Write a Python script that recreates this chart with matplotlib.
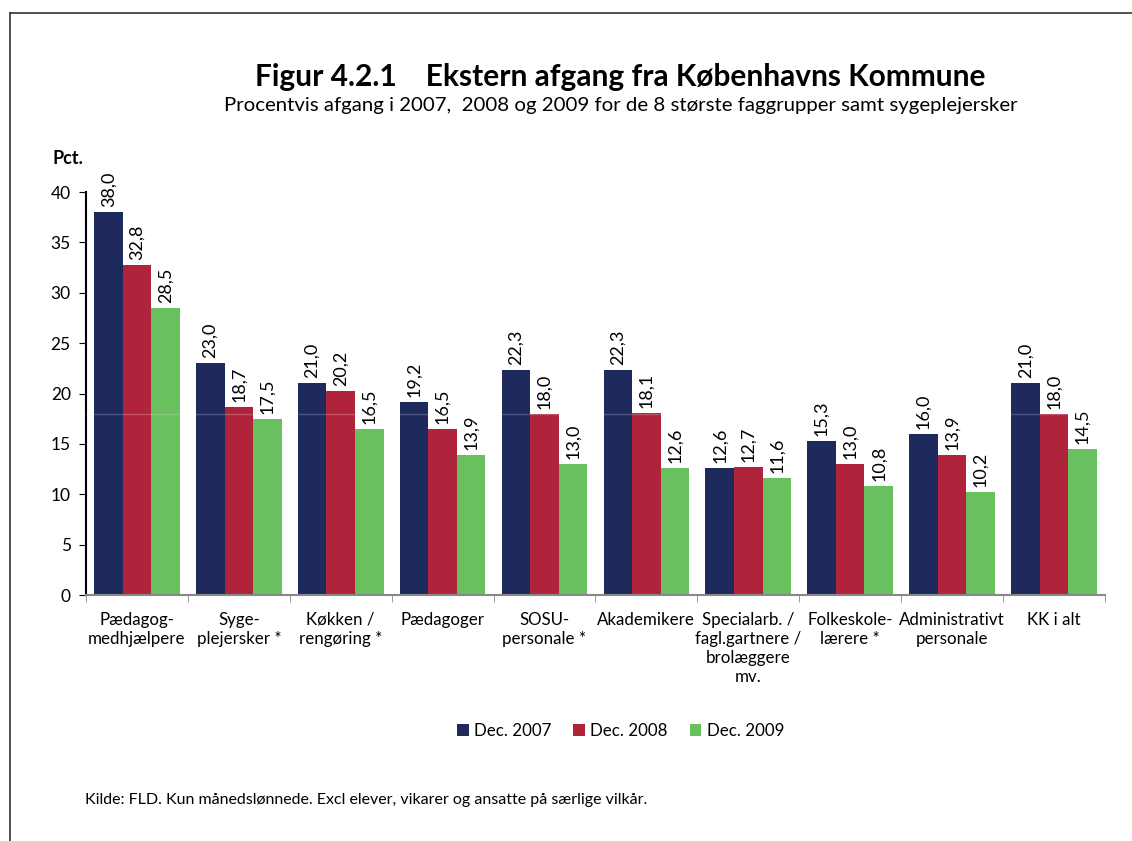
import matplotlib.pyplot as plt
import numpy as np
from matplotlib.lines import Line2D

plt.rcParams['font.family'] = ['Lato', 'DejaVu Sans']

categories = ['Pædagog-\nmedhjælpere', 'Syge-\nplejersker *', 'Køkken /\nrengøring *',
              'Pædagoger', 'SOSU-\npersonale *', 'Akademikere',
              'Specialarb. /\nfagl.gartnere /\nbrolæggere\nmv.', 'Folkeskole-\nlærere *',
              'Administrativt\npersonale', 'KK i alt']
dec2007 = [38.0, 23.0, 21.0, 19.2, 22.3, 22.3, 12.6, 15.3, 16.0, 21.0]
dec2008 = [32.8, 18.7, 20.2, 16.5, 18.0, 18.1, 12.7, 13.0, 13.9, 18.0]
dec2009 = [28.5, 17.5, 16.5, 13.9, 13.0, 12.6, 11.6, 10.8, 10.2, 14.5]
series = [('Dec. 2007', dec2007, '#1f2a5c'),
          ('Dec. 2008', dec2008, '#b0243b'),
          ('Dec. 2009', dec2009, '#6abf5f')]

fig = plt.figure(figsize=(11.32, 8.41), dpi=100)
ax = fig.add_axes([0.076, 0.2925, 0.9, 0.4792])

x = np.arange(len(categories))
w = 0.28
for i, (name, vals, col) in enumerate(series):
    pos = x + (i - 1) * w
    ax.bar(pos, vals, width=w, color=col, label=name, zorder=2)
    for px, v in zip(pos, vals):
        ax.text(px, v + 0.5, f'{v:.1f}'.replace('.', ','), rotation=90,
                ha='center', va='bottom', fontsize=13)

ax.axhline(18, color='white', alpha=0.2, lw=1, zorder=3)

ax.set_xlim(-0.5, len(categories) - 0.5)
ax.set_ylim(0, 40)
ax.set_yticks(range(0, 41, 5))
ax.tick_params(axis='y', labelsize=12.5, length=5, direction='out', pad=6)
ax.set_xticks(x)
ax.set_xticklabels(categories, fontsize=12.2, linespacing=1.25)
ax.tick_params(axis='x', length=0, pad=12)
ax.set_xticks(np.arange(-0.5, len(categories)), minor=True)
ax.tick_params(axis='x', which='minor', length=5, color='#888888')

for s in ['top', 'right']:
    ax.spines[s].set_visible(False)
ax.spines['bottom'].set_color('#888888')
ax.spines['bottom'].set_linewidth(1.5)
ax.spines['left'].set_linewidth(1.5)

fig.text(0.548, 0.908, 'Figur 4.2.1    Ekstern afgang fra Københavns Kommune',
         ha='center', va='center', fontsize=21.5, fontweight='bold')
fig.text(0.548, 0.874, 'Procentvis afgang i 2007,  2008 og 2009 for de 8 største faggrupper samt sygeplejersker',
         ha='center', va='center', fontsize=14.7)
fig.text(0.046, 0.812, 'Pct.', ha='left', va='center', fontsize=13, fontweight='bold')

fig.legend(loc='center', bbox_to_anchor=(0.548, 0.131), ncol=3, frameon=False,
           fontsize=12.2, handlelength=0.7, handleheight=0.7, handletextpad=0.3,
           columnspacing=1.3)

fig.text(0.075, 0.049, 'Kilde: FLD. Kun månedslønnede. Excl elever, vikarer og ansatte på særlige vilkår.',
         ha='left', va='center', fontsize=11.5)

fig.add_artist(Line2D([0.009, 1.0], [0.9845, 0.9845], color='#333333', lw=1.2,
                      transform=fig.transFigure))
fig.add_artist(Line2D([0.009, 0.009], [0.0, 0.9845], color='#333333', lw=1.2,
                      transform=fig.transFigure))

fig.savefig('out.png', dpi=100)
